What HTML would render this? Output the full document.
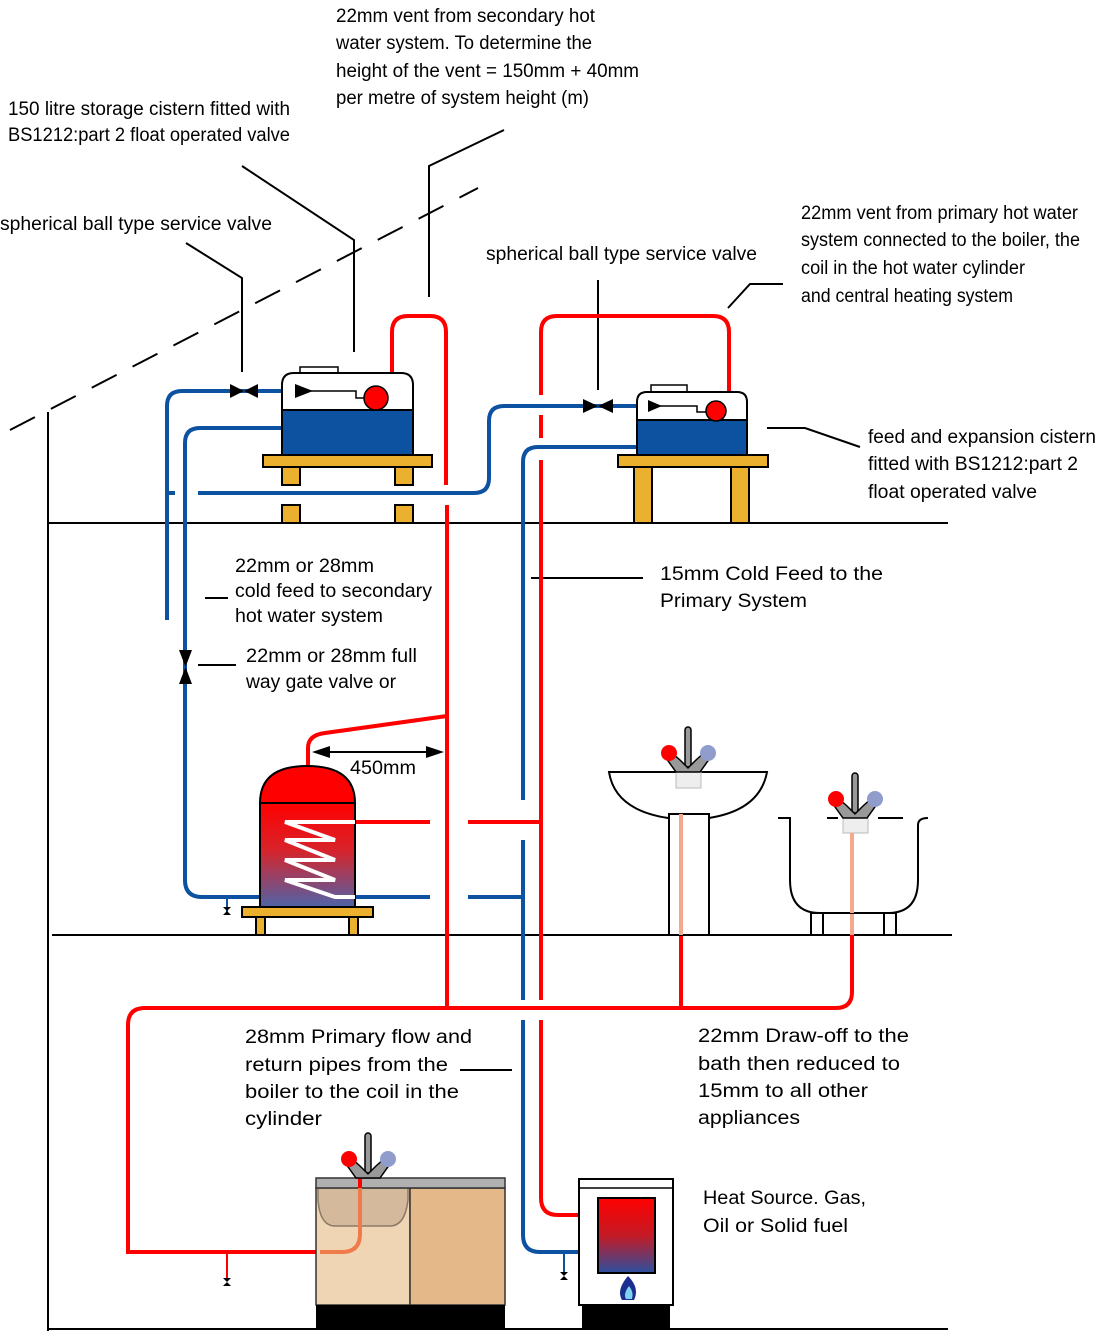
<!DOCTYPE html>
<html><head><meta charset="utf-8"><style>
html,body{margin:0;padding:0;background:#fff}
svg{display:block}
text{font-family:"Liberation Sans",sans-serif;font-size:19px;fill:#000}
</style></head><body>
<svg width="1105" height="1331" viewBox="0 0 1105 1331" xmlns="http://www.w3.org/2000/svg">
<defs>
<linearGradient id="cg" x1="0" y1="0" x2="0" y2="1">
<stop offset="0" stop-color="#ff0000"/><stop offset="0.45" stop-color="#d8232a"/><stop offset="1" stop-color="#4f63a8"/></linearGradient>
<linearGradient id="bg" x1="0" y1="0" x2="0" y2="1">
<stop offset="0" stop-color="#ff0000"/><stop offset="0.5" stop-color="#c41a25"/><stop offset="1" stop-color="#2c50a0"/></linearGradient>
<g id="tap">
<rect x="-3" y="-45" width="6" height="40" rx="3" fill="#999" stroke="#000" stroke-width="1.5"/>
<path d="M-17,-20 L-8,-12 L0,-4 L8,-12 L17,-20 L22,-14 L12,0 H-12 L-22,-14 Z" fill="#999" stroke="#000" stroke-width="1.5"/>
<circle cx="-19" cy="-19" r="8" fill="#ff0000"/>
<circle cx="20" cy="-19" r="8" fill="#8f9ccc"/>
</g>
</defs>

<line x1="10" y1="430" x2="478" y2="188" stroke="#000" stroke-width="2" stroke-dasharray="28,18"/>
<line x1="48" y1="412" x2="48" y2="1331" stroke="#000" stroke-width="2"/>
<line x1="48" y1="523" x2="948" y2="523" stroke="#000" stroke-width="2"/>
<line x1="52" y1="935" x2="952" y2="935" stroke="#000" stroke-width="2"/>
<line x1="48" y1="1329" x2="948" y2="1329" stroke="#000" stroke-width="2"/>

<g stroke="#000" stroke-width="2" fill="none">
<polyline points="242,166 354,240 354,352"/>
<polyline points="504,130 429,166 429,297"/>
<polyline points="186,243 242,278 242,372"/>
<line x1="598" y1="280" x2="598" y2="390"/>
<polyline points="783,284 750,284 728,308"/>
<polyline points="767,428 805,428 860,447"/>
<line x1="205" y1="598" x2="228" y2="598"/>
<line x1="198" y1="665" x2="236" y2="665"/>
<line x1="531" y1="578" x2="643" y2="578"/>
<line x1="460" y1="1070" x2="512" y2="1070"/>
</g>

<g stroke="#0d51a1" stroke-width="4" fill="none">
<path d="M167,620 V406 Q167,391 182,391 H300"/>
<line x1="167" y1="493" x2="175" y2="493"/>
<path d="M282,428 H200 Q185,428 185,443 V880 Q185,897 202,897 H270"/>
<path d="M198,493 H474 Q489,493 489,478 V421 Q489,406 504,406 H650"/>
<path d="M637,447 H538 Q523,447 523,462 V800"/>
<path d="M523,840 V1000"/>
<path d="M523,1020 V1235 Q523,1252 540,1252 H598"/>
<line x1="355" y1="897" x2="430" y2="897"/>
<line x1="468" y1="897" x2="523" y2="897"/>
</g>
<g stroke="#0d51a1" stroke-width="2"><line x1="227" y1="897" x2="227" y2="912"/><line x1="564" y1="1252" x2="564" y2="1275"/></g>
<path d="M223,907 h8 l-8,8 h8 z" fill="#000"/>
<path d="M560,1272 h8 l-8,8 h8 z" fill="#000"/>

<g stroke="#ff0000" stroke-width="4" fill="none">
<path d="M392,380 V332 Q392,316 408,316 H430 Q446,316 446,332 V485"/>
<path d="M447,505 V1008"/>
<path d="M308,766 V748 Q308,735 325,733 L447,716"/>
<line x1="355" y1="822" x2="430" y2="822"/>
<line x1="468" y1="822" x2="541" y2="822"/>
<path d="M541,395 V332 Q541,316 557,316 H713 Q729,316 729,332 V395"/>
<path d="M541,415 V438"/>
<path d="M541,460 V1000"/>
<path d="M541,1020 V1198 Q541,1215 558,1215 H598"/>
<path d="M145,1008 H836 Q852,1008 852,992 V935"/>
<path d="M145,1008 Q128,1008 128,1025 V1252 H320"/>
<line x1="681" y1="1008" x2="681" y2="935"/>
</g>
<g stroke="#f4a98e" stroke-width="4"><line x1="681" y1="935" x2="681" y2="788"/><line x1="852" y1="935" x2="852" y2="835"/></g>
<line x1="227" y1="1252" x2="227" y2="1280" stroke="#ff0000" stroke-width="2"/>
<path d="M223,1278 h8 l-8,8 h8 z" fill="#000"/>

<rect x="300" y="367" width="38" height="7" fill="#fff" stroke="#000" stroke-width="1.5"/>
<path d="M282,455 V385 Q282,373 294,373 H401 Q413,373 413,385 V455 Z" fill="#fff" stroke="#000" stroke-width="2"/>
<rect x="282" y="410" width="131" height="45" fill="#0d51a1" stroke="#000" stroke-width="2"/>
<polyline points="300,391 356,391 356,398 364,398" fill="none" stroke="#000" stroke-width="1.5"/>
<circle cx="376" cy="398" r="12" fill="#ff0000" stroke="#000" stroke-width="1.5"/>
<path d="M295,384 L313,391 L295,398 Z" fill="#000"/>
<path d="M230,384 L258,398 V384 L230,398 Z" fill="#000"/>
<rect x="263" y="455" width="169" height="12" fill="#ebb02d" stroke="#000" stroke-width="2"/>
<rect x="282" y="467" width="18" height="18" fill="#ebb02d" stroke="#000" stroke-width="2"/>
<rect x="395" y="467" width="18" height="18" fill="#ebb02d" stroke="#000" stroke-width="2"/>
<rect x="282" y="505" width="18" height="18" fill="#ebb02d" stroke="#000" stroke-width="2"/>
<rect x="395" y="505" width="18" height="18" fill="#ebb02d" stroke="#000" stroke-width="2"/>

<rect x="651" y="385" width="36" height="7" fill="#fff" stroke="#000" stroke-width="1.5"/>
<path d="M637,455 V402 Q637,392 647,392 H737 Q747,392 747,402 V455 Z" fill="#fff" stroke="#000" stroke-width="2"/>
<rect x="637" y="420" width="110" height="35" fill="#0d51a1" stroke="#000" stroke-width="2"/>
<polyline points="660,406 697,406 697,412 706,412" fill="none" stroke="#000" stroke-width="1.5"/>
<circle cx="716" cy="411" r="10" fill="#ff0000" stroke="#000" stroke-width="1.5"/>
<path d="M648,400 L662,406 L648,412 Z" fill="#000"/>
<path d="M583,399 L613,413 V399 L583,413 Z" fill="#000"/>
<rect x="618" y="455" width="150" height="12" fill="#ebb02d" stroke="#000" stroke-width="2"/>
<rect x="634" y="467" width="18" height="56" fill="#ebb02d" stroke="#000" stroke-width="2"/>
<rect x="731" y="467" width="18" height="56" fill="#ebb02d" stroke="#000" stroke-width="2"/>

<path d="M179,650 H192 L179,684 H192 Z" fill="#000"/>

<path d="M260,803 Q260,766 307,766 Q355,766 355,803 Z" fill="#ff0000" stroke="#000" stroke-width="2"/>
<rect x="260" y="803" width="95" height="104" fill="url(#cg)" stroke="#000" stroke-width="2"/>
<polyline points="355,822 285,822 335,840 285,840 335,860 285,860 335,880 285,880 335,897 355,897" fill="none" stroke="#fff" stroke-width="4"/>
<rect x="242" y="907" width="131" height="10" fill="#ebb02d" stroke="#000" stroke-width="2"/>
<rect x="256" y="917" width="9" height="18" fill="#ebb02d" stroke="#000" stroke-width="2"/>
<rect x="349" y="917" width="9" height="18" fill="#ebb02d" stroke="#000" stroke-width="2"/>
<line x1="325" y1="752" x2="430" y2="752" stroke="#000" stroke-width="2"/>
<path d="M312,752 L330,746 V758 Z M444,752 L426,746 V758 Z" fill="#000"/>

<path d="M609,772 H767 Q760,810 709,818 H668 Q615,810 609,772 Z" fill="#fff" stroke="#000" stroke-width="2"/>
<rect x="669" y="814" width="40" height="121" fill="#fff" stroke="#000" stroke-width="2"/>
<line x1="681" y1="814" x2="681" y2="935" stroke="#f4a98e" stroke-width="4"/>
<rect x="676" y="772" width="25" height="16" fill="#eee" stroke="#bbb" stroke-width="1"/>
<path d="M778,818 H790 V880 Q790,913 820,913 H888 Q918,913 918,880 V825 Q918,818 928,818" fill="none" stroke="#000" stroke-width="2"/>
<line x1="827" y1="818" x2="838" y2="818" stroke="#000" stroke-width="2"/>
<line x1="878" y1="818" x2="903" y2="818" stroke="#000" stroke-width="2"/>
<rect x="811" y="913" width="12" height="22" fill="#fff" stroke="#000" stroke-width="2"/>
<rect x="884" y="913" width="12" height="22" fill="#fff" stroke="#000" stroke-width="2"/>
<rect x="843" y="818" width="25" height="15" fill="#eee" stroke="#bbb" stroke-width="1"/>
<line x1="852" y1="833" x2="852" y2="913" stroke="#f4a98e" stroke-width="4"/>

<use href="#tap" transform="translate(688,772)"/>
<use href="#tap" transform="translate(855,818)"/>

<rect x="316" y="1188" width="94" height="117" fill="#f0d5b5" stroke="#333" stroke-width="1.5"/>
<rect x="410" y="1188" width="95" height="117" fill="#e5b88a" stroke="#333" stroke-width="1.5"/>
<path d="M318,1188 H408 V1200 Q405,1226 390,1226 H335 Q320,1226 318,1200 Z" fill="#d4b99c" stroke="#8a7a66" stroke-width="1.5"/>
<rect x="316" y="1178" width="189" height="10" fill="#b0b0b0" stroke="#333" stroke-width="1.5"/>
<rect x="316" y="1305" width="189" height="24" fill="#000"/>
<path d="M320,1252 H342 Q360,1252 360,1234 V1188" fill="none" stroke="#ef7b4b" stroke-width="4"/>
<line x1="360" y1="1188" x2="360" y2="1176" stroke="#ff0000" stroke-width="4"/>
<use href="#tap" transform="translate(368,1178)"/>

<rect x="579" y="1179" width="94" height="126" fill="#fff" stroke="#000" stroke-width="2"/>
<line x1="579" y1="1188" x2="673" y2="1188" stroke="#000" stroke-width="1.5"/>
<rect x="598" y="1198" width="57" height="75" fill="url(#bg)" stroke="#000" stroke-width="2"/>
<rect x="582" y="1305" width="88" height="24" fill="#000"/>
<path d="M628,1276 Q616,1290 622,1300 H634 Q640,1288 628,1276 Z" fill="#1a2f8f"/>
<path d="M629,1286 Q623,1294 626,1299 H632 Q634,1292 629,1286 Z" fill="#7fd3ee"/>

<g>
<text x="336" y="22" textLength="259" lengthAdjust="spacingAndGlyphs">22mm vent from secondary hot</text>
<text x="336" y="49" textLength="256" lengthAdjust="spacingAndGlyphs">water system. To determine the</text>
<text x="336" y="77" textLength="303" lengthAdjust="spacingAndGlyphs">height of the vent = 150mm + 40mm</text>
<text x="336" y="104" textLength="253" lengthAdjust="spacingAndGlyphs">per metre of system height (m)</text>
<text x="8" y="115" textLength="282" lengthAdjust="spacingAndGlyphs">150 litre storage cistern fitted with</text>
<text x="8" y="141" textLength="282" lengthAdjust="spacingAndGlyphs">BS1212:part 2 float operated valve</text>
<text x="0" y="230" textLength="272" lengthAdjust="spacingAndGlyphs">spherical ball type service valve</text>
<text x="486" y="260" textLength="271" lengthAdjust="spacingAndGlyphs">spherical ball type service valve</text>
<text x="801" y="219" textLength="277" lengthAdjust="spacingAndGlyphs">22mm vent from primary hot water</text>
<text x="801" y="246" textLength="279" lengthAdjust="spacingAndGlyphs">system connected to the boiler,  the</text>
<text x="801" y="274" textLength="224" lengthAdjust="spacingAndGlyphs">coil in the hot water cylinder</text>
<text x="801" y="302" textLength="212" lengthAdjust="spacingAndGlyphs">and central heating system</text>
<text x="868" y="443" textLength="228" lengthAdjust="spacingAndGlyphs">feed and expansion cistern</text>
<text x="868" y="470" textLength="210" lengthAdjust="spacingAndGlyphs">fitted with BS1212:part 2</text>
<text x="868" y="498" textLength="169" lengthAdjust="spacingAndGlyphs">float operated valve</text>
<text x="235" y="572" textLength="139" lengthAdjust="spacingAndGlyphs">22mm or 28mm</text>
<text x="235" y="597" textLength="197" lengthAdjust="spacingAndGlyphs">cold feed to secondary</text>
<text x="235" y="622" textLength="148" lengthAdjust="spacingAndGlyphs">hot water system</text>
<text x="246" y="662" textLength="171" lengthAdjust="spacingAndGlyphs">22mm or 28mm full</text>
<text x="246" y="688" textLength="150" lengthAdjust="spacingAndGlyphs">way gate valve or</text>
<text x="660" y="580" textLength="223" lengthAdjust="spacingAndGlyphs">15mm Cold Feed to the</text>
<text x="660" y="607" textLength="147" lengthAdjust="spacingAndGlyphs">Primary System</text>
<text x="350" y="774" textLength="66" lengthAdjust="spacingAndGlyphs">450mm</text>
<text x="245" y="1043" textLength="227" lengthAdjust="spacingAndGlyphs">28mm Primary flow and</text>
<text x="245" y="1071" textLength="203" lengthAdjust="spacingAndGlyphs">return pipes from the</text>
<text x="245" y="1098" textLength="214" lengthAdjust="spacingAndGlyphs">boiler to the coil in the</text>
<text x="245" y="1125" textLength="77" lengthAdjust="spacingAndGlyphs">cylinder</text>
<text x="698" y="1042" textLength="211" lengthAdjust="spacingAndGlyphs">22mm Draw-off to the</text>
<text x="698" y="1070" textLength="202" lengthAdjust="spacingAndGlyphs">bath then reduced to</text>
<text x="698" y="1097" textLength="170" lengthAdjust="spacingAndGlyphs">15mm to all other</text>
<text x="698" y="1124" textLength="102" lengthAdjust="spacingAndGlyphs">appliances</text>
<text x="703" y="1204" textLength="163" lengthAdjust="spacingAndGlyphs">Heat Source. Gas,</text>
<text x="703" y="1232" textLength="145" lengthAdjust="spacingAndGlyphs">Oil or Solid fuel</text>
</g>
</svg>
</body></html>
